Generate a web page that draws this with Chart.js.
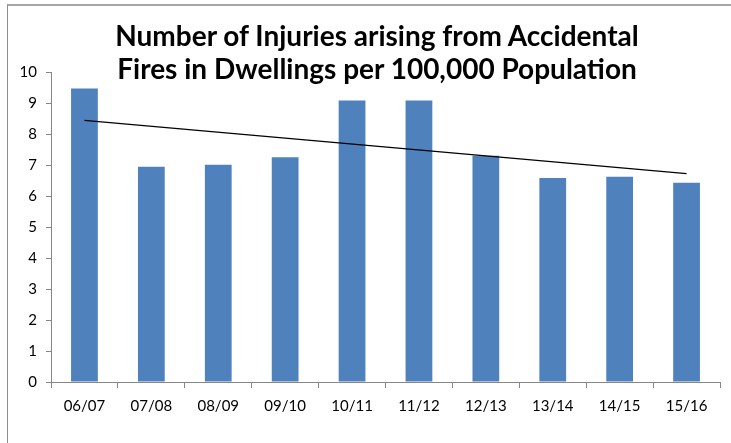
<!DOCTYPE html>
<html>
<head>
<meta charset="utf-8">
<script src="https://cdn.jsdelivr.net/npm/chart.js@4/dist/chart.umd.min.js"></script>
<style>
  html, body { margin: 0; padding: 0; background: #fff; }
  #wrap { position: relative; width: 731px; height: 443px; overflow: hidden; }
  #frame { position: absolute; left: 7px; top: 4px; width: 730px; height: 445px;
           border-top: 2px solid #a6a6a6; border-left: 1px solid #8c8c8c; box-sizing: border-box; }
  #title { position: absolute; left: 0; width: 754px; top: 19px; text-align: center;
           font-family: Lato, "Open Sans", sans-serif; font-weight: bold; font-size: 28px;
           line-height: 33px; color: #000; z-index: 2; pointer-events: none; }
  canvas { position: absolute; left: 0; top: 0; }
</style>
</head>
<body>
<div id="wrap">
  <div id="frame"></div>
  <canvas id="c" width="731" height="443"></canvas>
  <div id="title">Number of Injuries arising from Accidental<br>Fires in Dwellings per 100,000 Population</div>
</div>
<script>
const categories = ["06/07","07/08","08/09","09/10","10/11","11/12","12/13","13/14","14/15","15/16"];
const injuries = [9.47, 6.94, 7.01, 7.25, 9.08, 9.08, 7.30, 6.58, 6.62, 6.43];
const trendEnds = [8.44, null, null, null, null, null, null, null, null, 6.72];
const yTicks = [0,1,2,3,4,5,6,7,8,9,10];

const axisGray = '#868686';
new Chart(document.getElementById('c'), {
  data: {
    labels: categories,
    datasets: [
      { type: 'line', data: trendEnds, borderColor: '#000', borderWidth: 1.3, pointRadius: 0,
        spanGaps: true, order: 0, fill: false },
      { type: 'bar', data: injuries, backgroundColor: '#4F81BD', borderWidth: 0,
        barPercentage: 0.4, categoryPercentage: 1.0, order: 1 }
    ]
  },
  options: {
    responsive: false,
    animation: false,
    events: [],
    layout: { padding: { left: 0, right: 11, top: 72, bottom: 0 } },
    plugins: { legend: { display: false }, title: { display: false }, tooltip: { enabled: false } },
    scales: {
      x: {
        offset: true,
        grid: { display: true, drawOnChartArea: false, drawTicks: true, tickLength: 6, color: axisGray, offset: true },
        border: { color: axisGray, width: 1 },
        ticks: { color: '#000', font: { family: 'Lato, "Open Sans", sans-serif', size: 15 }, padding: 9, maxRotation: 0 },
        afterFit: s => { s.height = 61; }
      },
      y: {
        min: 0, max: 10,
        afterBuildTicks: s => { s.ticks = yTicks.map(v => ({ value: v })); },
        grid: { display: true, drawOnChartArea: false, drawTicks: true, tickLength: 5, color: axisGray },
        border: { color: axisGray, width: 1 },
        ticks: { color: '#000', font: { family: 'Lato, "Open Sans", sans-serif', size: 15 }, padding: 9 },
        afterFit: s => { s.width = 51; }
      }
    }
  }
});
</script>
</body>
</html>
